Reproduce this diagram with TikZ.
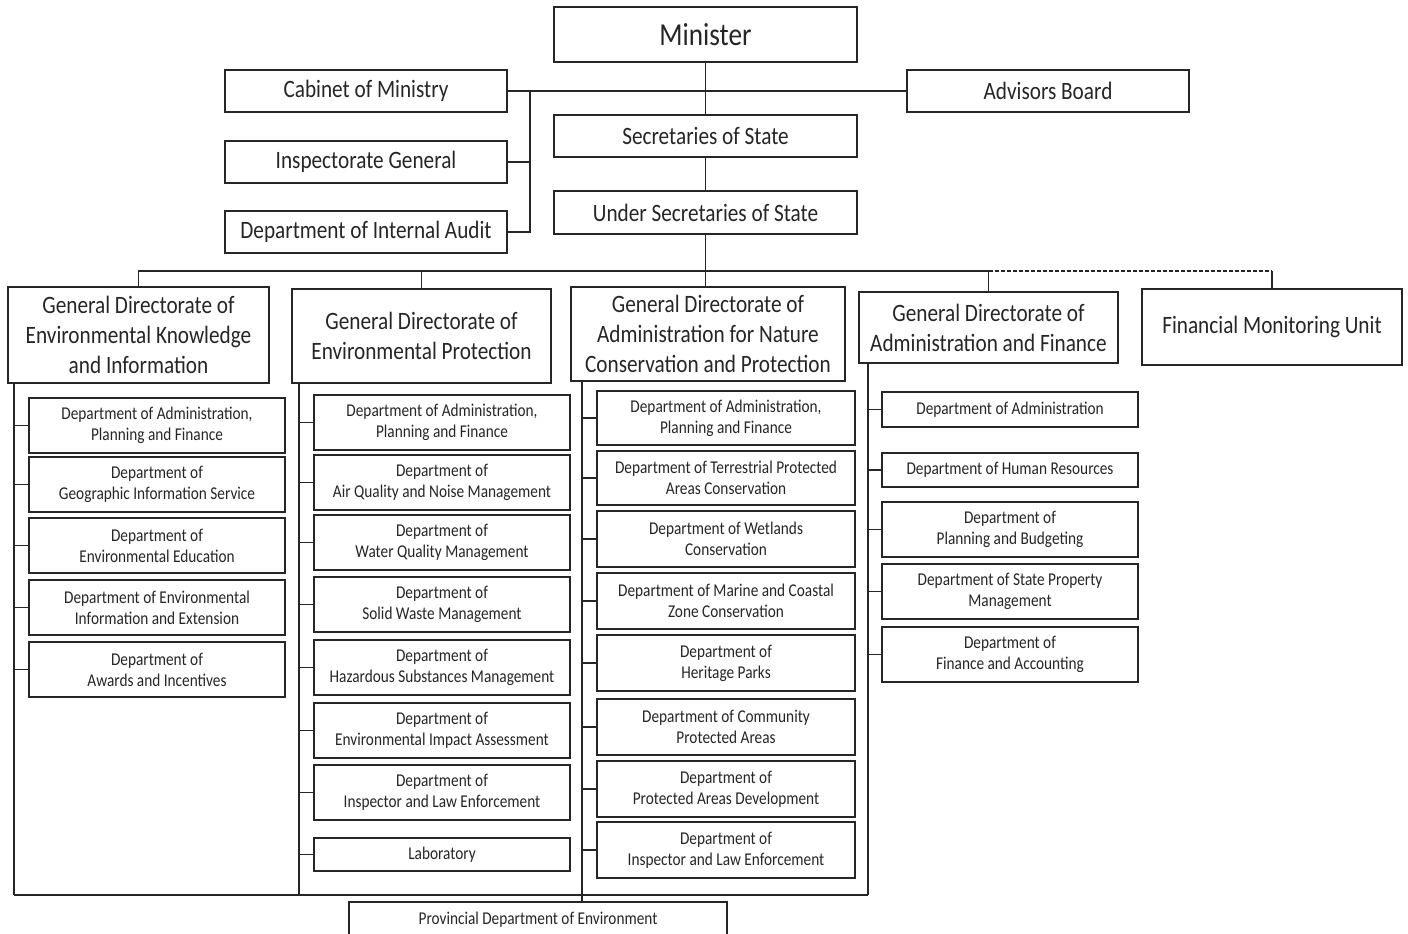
\documentclass[tikz,border=0pt]{standalone}
\usepackage{fontspec}
\setmainfont{Carlito}[FakeStretch=0.85]
\begin{document}
\begin{tikzpicture}[x=1pt,y=-1pt,
  every node/.style={inner sep=0pt, outer sep=0pt, align=center, text=black!85},
  base/.style={draw=black!85, line width=1.2pt, fill=white},
  big/.style={base, font=\fontsize{32}{38}\selectfont},
  mid/.style={base, font=\fontsize{25}{30}\selectfont},
  small/.style={base, font=\fontsize{18}{21}\selectfont},
  conn/.style={draw=black!85, line width=1.2pt}]
\useasboundingbox (0,0) rectangle (1408,934);
\clip (0,0) rectangle (1408,934);
\newcommand\bx[7]{\node[#6, minimum width={#4-#2}, minimum height={#5-#3}] (#1) at ({(#2+#4)/2},{(#3+#5)/2}) {#7};}
% top
\bx{min}{554}{7}{857}{62}{big}{Minister}
\bx{cab}{225}{70}{507}{112}{mid}{Cabinet of Ministry}
\bx{adv}{907}{70}{1189}{112}{mid}{Advisors Board}
\bx{sec}{554}{115}{857}{157}{mid}{Secretaries of State}
\bx{und}{554}{191}{857}{234}{mid}{Under Secretaries of State}
\bx{ins}{225}{141}{507}{183}{mid}{Inspectorate General}
\bx{aud}{225}{211}{507}{253}{mid}{Department of Internal Audit}
% directorates
\bx{g1}{8}{287}{269}{383}{mid}{General Directorate of\\Environmental Knowledge\\and Information}
\bx{g2}{292}{289}{551}{383}{mid}{General Directorate of\\Environmental Protection}
\bx{g3}{571}{287}{845}{381}{mid}{General Directorate of\\Administration for Nature\\Conservation and Protection}
\bx{g4}{859}{292}{1118}{363}{mid}{General Directorate of\\Administration and Finance}
\bx{fmu}{1142}{289}{1402}{365}{mid}{Financial Monitoring Unit}
% GD1 children
\bx{c11}{29}{398}{285}{453}{small}{Department of Administration,\\Planning and Finance}
\bx{c12}{29}{457}{285}{512}{small}{Department of\\Geographic Information Service}
\bx{c13}{29}{518}{285}{573}{small}{Department of\\Environmental Education}
\bx{c14}{29}{580}{285}{635}{small}{Department of Environmental\\Information and Extension}
\bx{c15}{29}{642}{285}{697}{small}{Department of\\Awards and Incentives}
% GD2 children
\bx{c21}{314}{395}{570}{450}{small}{Department of Administration,\\Planning and Finance}
\bx{c22}{314}{455}{570}{510}{small}{Department of\\Air Quality and Noise Management}
\bx{c23}{314}{515}{570}{570}{small}{Department of\\Water Quality Management}
\bx{c24}{314}{577}{570}{632}{small}{Department of\\Solid Waste Management}
\bx{c25}{314}{640}{570}{695}{small}{Department of\\Hazardous Substances Management}
\bx{c26}{314}{703}{570}{758}{small}{Department of\\Environmental Impact Assessment}
\bx{c27}{314}{765}{570}{820}{small}{Department of\\Inspector and Law Enforcement}
\bx{c28}{314}{838}{570}{871}{small}{Laboratory}
% GD3 children
\bx{c31}{597}{391}{855}{445}{small}{Department of Administration,\\Planning and Finance}
\bx{c32}{597}{451}{855}{505}{small}{Department of Terrestrial Protected\\Areas Conservation}
\bx{c33}{597}{511}{855}{567}{small}{Department of Wetlands\\Conservation}
\bx{c34}{597}{573}{855}{629}{small}{Department of Marine and Coastal\\Zone Conservation}
\bx{c35}{597}{635}{855}{691}{small}{Department of\\Heritage Parks}
\bx{c36}{597}{699}{855}{755}{small}{Department of Community\\Protected Areas}
\bx{c37}{597}{761}{855}{817}{small}{Department of\\Protected Areas Development}
\bx{c38}{597}{822}{855}{878}{small}{Department of\\Inspector and Law Enforcement}
% GD4 children
\bx{c41}{882}{392}{1138}{427}{small}{Department of Administration}
\bx{c42}{882}{453}{1138}{487}{small}{Department of Human Resources}
\bx{c43}{882}{502}{1138}{557}{small}{Department of\\Planning and Budgeting}
\bx{c44}{882}{564}{1138}{619}{small}{Department of State Property\\Management}
\bx{c45}{882}{627}{1138}{682}{small}{Department of\\Finance and Accounting}
% provincial
\bx{prov}{349}{902}{727}{937}{small}{Provincial Department of Environment}
% coordinates
\coordinate (j) at (530,91);
\coordinate (bus) at (706,271);
\coordinate (b1) at (14,895);
\coordinate (b2) at (299,895);
\coordinate (b3) at (582,895);
\coordinate (b4) at (868,895);
% connectors top
\draw[conn] (min.south) -- (sec.north);
\draw[conn] (cab.east) -- (adv.west);
\draw[conn] (j) |- (aud.east);
\draw[conn] (ins.east) -- (ins.east -| j);
\draw[conn] (sec.south) -- (und.north);
\draw[conn] (und.south) -- (und.south |- g3.north);
% bus
\draw[conn] (g1.north) |- (bus);
\draw[conn] (bus) -| (g4.north);
\draw[conn] (g2.north) -- (g2.north |- bus);
\draw[conn, dashed, dash pattern=on 4pt off 2pt] (g4.north |- bus) -- (fmu.north |- bus);
\draw[conn] (fmu.north |- bus) -- (fmu.north);
% spines
\draw[conn] (g1.south -| b1) -- (b1);
\draw[conn] (g2.south -| b2) -- (b2);
\draw[conn] (g3.south -| b3) -- (prov.north -| b3);
\draw[conn] (g4.south -| b4) -- (b4);
\draw[conn] (b1) -- (b4);
% stubs
\foreach \c in {c11,c12,c13,c14,c15} \draw[conn] (\c.west) -- (\c.west -| b1);
\foreach \c in {c21,c22,c23,c24,c25,c26,c27,c28} \draw[conn] (\c.west) -- (\c.west -| b2);
\foreach \c in {c31,c32,c33,c34,c35,c36,c37,c38} \draw[conn] (\c.west) -- (\c.west -| b3);
\foreach \c in {c41,c42,c43,c44,c45} \draw[conn] (\c.west) -- (\c.west -| b4);
\end{tikzpicture}
\end{document}
